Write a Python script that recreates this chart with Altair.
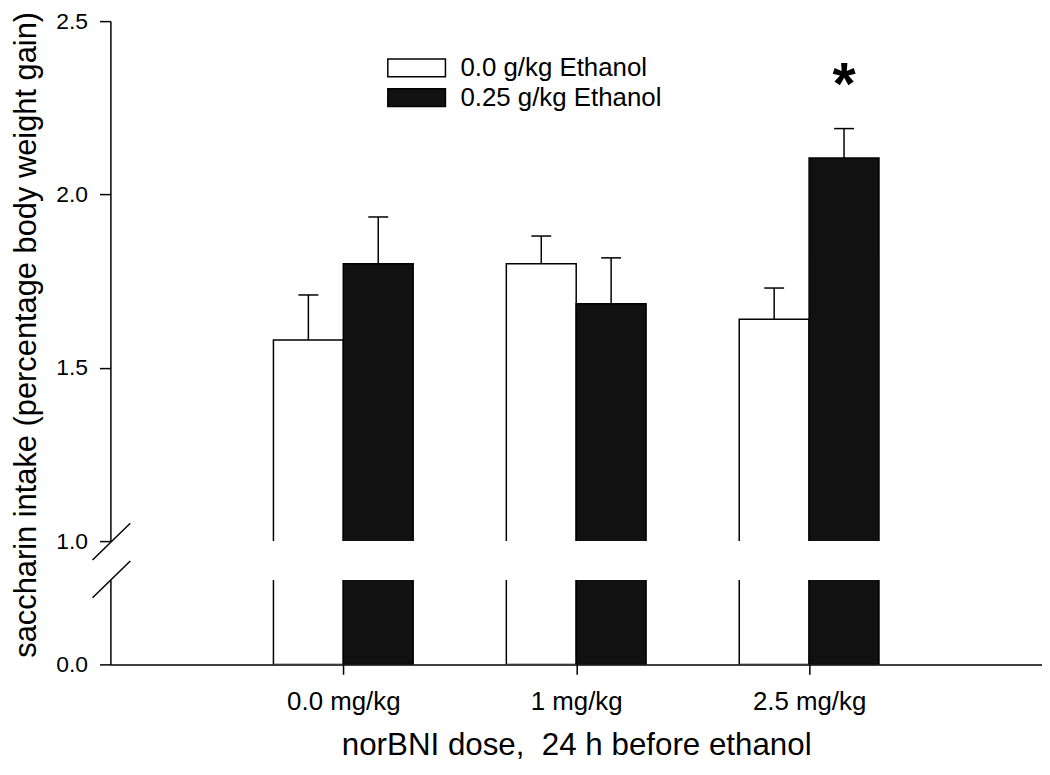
import altair as alt
import pandas as pd

# ---- data ----
doses = ["0.0 mg/kg", "1 mg/kg", "2.5 mg/kg"]
groups = ["0.0 g/kg Ethanol", "0.25 g/kg Ethanol"]
mean_ctrl = [1.58, 1.80, 1.64]
sem_ctrl = [0.13, 0.08, 0.09]
mean_eth = [1.80, 1.685, 2.105]
sem_eth = [0.135, 0.132, 0.085]
star_dose = ["2.5 mg/kg"]
star_group = ["0.25 g/kg Ethanol"]
star_y = [2.26]

upper_ticks = [1.0, 1.5, 2.0, 2.5]
lower_ticks = [0.0]
upper_domain = [1.0, 2.5]
lower_domain = [0.0, 0.24]

BAR_W = 0.3
rows = []
for i, d in enumerate(doses):
    for g, means, sems in ((groups[0], mean_ctrl, sem_ctrl), (groups[1], mean_eth, sem_eth)):
        x0 = i - BAR_W if g == groups[0] else i
        rows.append(dict(dose=d, i=i, group=g, mean=means[i], top=means[i] + sems[i],
                         x0=x0, x1=x0 + BAR_W, xc=x0 + BAR_W / 2))
df = pd.DataFrame(rows)

stars = df[(df.dose.isin(star_dose)) & (df.group.isin(star_group))].copy()
stars["sy"] = star_y

FONT = "Liberation Sans"
W = 937
H_UP = 523
xscale = alt.Scale(domain=[-1, 3], nice=False, zero=False)
fill_scale = alt.Scale(domain=groups, range=["#ffffff", "#111111"])

label_expr = "[" + ",".join("'%s'" % d for d in doses) + "][datum.value]"

# ---- upper panel ----
ys_up = alt.Scale(domain=upper_domain, nice=False, zero=False)
base_up = alt.Chart(df)
bars_up = base_up.mark_rect(stroke="black", strokeWidth=1.5, clip=True).encode(
    x=alt.X("x0:Q", scale=xscale, axis=None),
    x2="x1:Q",
    y=alt.Y("mean:Q", scale=ys_up,
            axis=alt.Axis(values=upper_ticks, format=".1f", title="saccharin intake (percentage body weight gain)",
                          titleX=-99, titleY=315, titleAngle=-90, titleAlign="center",
                          titleBaseline="top", titleFontSize=31, titleFontWeight="normal",
                          labelFontSize=23, labelPadding=12, tickSize=11)),
    y2=alt.Y2(datum=0),
    fill=alt.Fill("group:N", scale=fill_scale,
                  legend=alt.Legend(title=None, orient="none", legendX=295, legendY=34,
                                    symbolType="M-3.22,-1H3.22V1H-3.22Z", symbolSize=324,
                                    symbolStrokeColor="black", symbolStrokeWidth=1.5,
                                    labelFontSize=26, labelOffset=31, rowPadding=4,
                                    labelLimit=500)),
)
err_up = base_up.mark_rule(color="black", strokeWidth=1.5).encode(
    x=alt.X("xc:Q", scale=xscale), y=alt.Y("mean:Q", scale=ys_up), y2="top:Q")
cap_up = base_up.mark_tick(orient="horizontal", size=20, thickness=1.5, color="black", opacity=1).encode(
    x=alt.X("xc:Q", scale=xscale), y=alt.Y("top:Q", scale=ys_up))
star = alt.Chart(stars).mark_text(text="*", fontSize=60, fontWeight="bold", color="black",
                                  baseline="alphabetic", font=FONT).encode(
    x=alt.X("xc:Q", scale=xscale), y=alt.Y("sy:Q", scale=ys_up))
brk_up = alt.Chart(pd.DataFrame({"k": [0]})).mark_rule(color="black", strokeWidth=1.5).encode(
    x=alt.value(-18), x2=alt.value(20), y=alt.value(H_UP + 19), y2=alt.value(H_UP - 18))

upper = alt.layer(bars_up, err_up, cap_up, star, brk_up).properties(width=W, height=H_UP)

# ---- lower panel ----
ys_lo = alt.Scale(domain=lower_domain, nice=False, zero=False)
bars_lo = alt.Chart(df).mark_rect(stroke="black", strokeWidth=1.5, clip=True).encode(
    x=alt.X("x0:Q", scale=xscale,
            axis=alt.Axis(values=[0, 1, 2], labelExpr=label_expr, labelFontSize=26, labelPadding=14,
                          tickSize=10, title="norBNI dose,\u00a0 24 h before ethanol",
                          titleFontSize=31.5, titleFontWeight="normal", titlePadding=16)),
    x2="x1:Q",
    y=alt.Y("mean:Q", scale=ys_lo,
            axis=alt.Axis(values=lower_ticks, format=".1f", title=None,
                          labelFontSize=23, labelPadding=12, tickSize=11)),
    y2=alt.Y2(datum=0),
    fill=alt.Fill("group:N", scale=fill_scale, legend=None),
)
brk_lo = alt.Chart(pd.DataFrame({"k": [0]})).mark_rule(color="black", strokeWidth=1.5).encode(
    x=alt.value(-18), x2=alt.value(20), y=alt.value(18), y2=alt.value(-19))
lower = alt.layer(bars_lo, brk_lo).properties(width=W, height=85)

chart = alt.vconcat(upper, lower, spacing=39, bounds="flush").resolve_scale(
    y="independent", fill="shared"
).properties(
    padding={"left": 3, "top": 0, "right": 0, "bottom": 0}
).configure(font=FONT).configure_view(stroke=None).configure_axis(
    grid=False, domainColor="black", domainWidth=1.5, tickColor="black", tickWidth=1.5,
    labelColor="black", titleColor="black", labelFont=FONT, titleFont=FONT
).configure_legend(labelFont=FONT, labelColor="black")

chart.save("out.html", embed_options={"renderer": "svg", "actions": False})
